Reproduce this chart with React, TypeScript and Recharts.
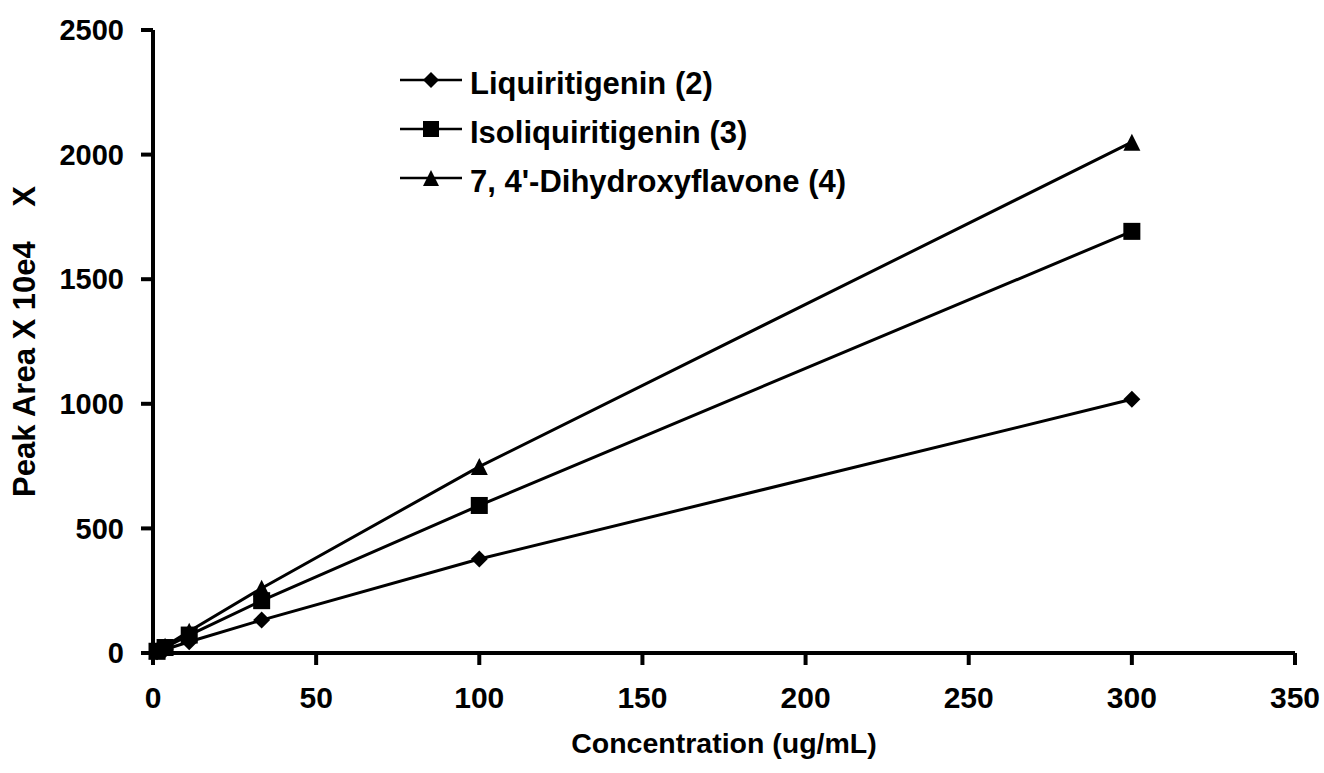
import { Line, LineChart, XAxis, YAxis } from "recharts";

const FONT = '"Liberation Sans", Arial, sans-serif';

// concentrations in ug/mL (3-fold dilution series)
const concentrations = [1.23, 3.7, 11.1, 33.3, 100, 300];

const liquiritigenin = [5, 14, 45, 132, 377, 1018];
const isoliquiritigenin = [7, 22, 72, 210, 592, 1692];
const dihydroxyflavone = [9, 27, 87, 260, 748, 2050];

const seriesNames = [
  "Liquiritigenin (2)",
  "Isoliquiritigenin (3)",
  "7, 4'-Dihydroxyflavone (4)",
];
const seriesKeys = ["liq", "iso", "flav"];

const xTicks = [0, 50, 100, 150, 200, 250, 300, 350];
const yTicks = [0, 500, 1000, 1500, 2000, 2500];

const data = concentrations.map((x, i) => ({
  x,
  liq: liquiritigenin[i],
  iso: isoliquiritigenin[i],
  flav: dihydroxyflavone[i],
}));

function Marker({ kind, cx, cy, s = 17 }: { kind: string; cx: number; cy: number; s?: number }) {
  const h = s / 2;
  if (kind === "liq") {
    return (
      <polygon
        points={`${cx},${cy - h} ${cx + h},${cy} ${cx},${cy + h} ${cx - h},${cy}`}
        fill="#000"
      />
    );
  }
  if (kind === "iso") {
    return <rect x={cx - h} y={cy - h} width={s} height={s} fill="#000" />;
  }
  return (
    <polygon
      points={`${cx},${cy - h} ${cx + h},${cy + h} ${cx - h},${cy + h}`}
      fill="#000"
    />
  );
}

function makeDot(kind: string) {
  return (props: any) => {
    const { cx, cy, index } = props;
    if (cx == null || cy == null) return <g key={`${kind}-${index}`} />;
    return <Marker key={`${kind}-${index}`} kind={kind} cx={cx} cy={cy} />;
  };
}

// legend drawn as an overlay so it doesn't eat into the plot area
function LegendBox() {
  return (
    <svg
      width={480}
      height={150}
      style={{ position: "absolute", left: 400, top: 60, overflow: "visible" }}
    >
      {seriesNames.map((name, i) => {
        const y = 20 + i * 49;
        return (
          <g key={name}>
            <line x1={0} y1={y} x2={62} y2={y} stroke="#000" strokeWidth={2.4} />
            <Marker kind={seriesKeys[i]} cx={31} cy={y} s={16} />
            <text
              x={70}
              y={y + 14}
              fontFamily={FONT}
              fontWeight="bold"
              fontSize={31}
              fill="#000"
            >
              {name}
            </text>
          </g>
        );
      })}
    </svg>
  );
}

function YLabel(props: any) {
  const vb = props.viewBox || { x: 0, y: 30, width: 153, height: 623 };
  const cx = 35;
  const cy = vb.y + vb.height / 2;
  return (
    <text
      x={cx}
      y={cy}
      transform={`rotate(-90, ${cx}, ${cy})`}
      textAnchor="middle"
      fontFamily={FONT}
      fontWeight="bold"
      fontSize={31}
      fill="#000"
      style={{ whiteSpace: "pre" }}
    >
      {"Peak Area X 10e4    X"}
    </text>
  );
}

export default function App() {
  return (
    <div style={{ position: "absolute", left: 0, top: 0, width: 1324, height: 773, background: "#fff" }}>
      <LineChart
        width={1324}
        height={773}
        data={data}
        margin={{ top: 30, right: 29, bottom: 0, left: 0 }}
      >
        <XAxis
          dataKey="x"
          type="number"
          domain={[0, 350]}
          ticks={xTicks}
          interval={0}
          height={120}
          axisLine={{ stroke: "#000", strokeWidth: 4 }}
          tickLine={{ stroke: "#000", strokeWidth: 4 }}
          tickSize={12}
          tickMargin={22}
          tick={{ fill: "#000", fontSize: 30, fontWeight: "bold", fontFamily: FONT }}
          label={{
            value: "Concentration (ug/mL)",
            position: "insideBottom",
            offset: 20,
            fill: "#000",
            fontSize: 28.5,
            fontWeight: "bold",
            fontFamily: FONT,
          }}
        />
        <YAxis
          type="number"
          domain={[0, 2500]}
          ticks={yTicks}
          interval={0}
          width={153}
          axisLine={{ stroke: "#000", strokeWidth: 4 }}
          tickLine={{ stroke: "#000", strokeWidth: 4 }}
          tickSize={12}
          tickMargin={17}
          tick={{ fill: "#000", fontSize: 29, fontWeight: "bold", fontFamily: FONT }}
          label={<YLabel />}
        />
        {seriesKeys.map((k, i) => (
          <Line
            key={k}
            dataKey={k}
            name={seriesNames[i]}
            type="linear"
            stroke="#000"
            strokeWidth={3}
            dot={makeDot(k)}
            activeDot={false}
            isAnimationActive={false}
          />
        ))}
      </LineChart>
      <LegendBox />
    </div>
  );
}
